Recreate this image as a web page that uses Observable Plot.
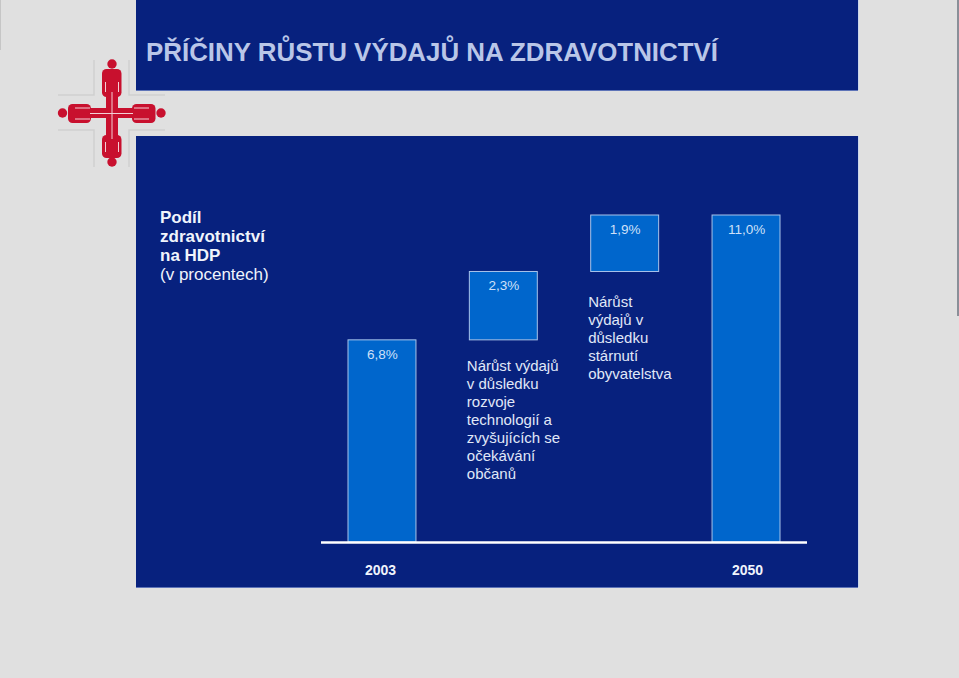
<!DOCTYPE html>
<html lang="cs">
<head>
<meta charset="utf-8">
<script src="https://cdn.jsdelivr.net/npm/d3@7"></script>
<script src="https://cdn.jsdelivr.net/npm/@observablehq/plot@0.6"></script>
<style>
html,body{margin:0;padding:0;width:959px;height:678px;overflow:hidden;background:#e0e0e0;font-family:"Liberation Sans",Arial,sans-serif}
#stage{position:relative;width:959px;height:678px}
.panel{position:absolute;left:136px;width:722px;background:#07217e;box-shadow:1px 0 0 #c9d6ea,0 1px 0 #5e74b8}
h1{position:absolute;left:146px;top:37px;margin:0;font-size:25.9px;line-height:30px;font-weight:bold;color:#b9c6e8;white-space:nowrap}
#head{position:absolute;left:160px;top:208px;font-size:17px;line-height:19px;color:#f0f4fc}
#head b{display:block}
#logo{position:absolute;left:0;top:0}
#plot{position:absolute;left:0;top:0}
#plot svg{background:transparent;display:block}
.edge{position:absolute;left:957px;top:0;width:2px;height:316px;background:#8a8f98}
.edgeL{position:absolute;left:0;top:0;width:1px;height:50px;background:#c6c6c6}
</style>
</head>
<body>
<div id="stage">
  <div class="panel" style="top:0;height:90px"></div>
  <div class="panel" style="top:136px;height:451px"></div>
  <div class="edge"></div>
  <div class="edgeL"></div>
  <svg id="logo" width="200" height="180">
    <g stroke="#cfcfcf" stroke-width="1.5" fill="none">
      <path d="M58 95H94V60M129 60V95H165M58 130H94V167M129 167V130H165"/>
    </g>
    <g fill="#c8102e">
      <circle cx="112" cy="64" r="4.7"/><circle cx="112" cy="162" r="4.7"/>
      <circle cx="62.500" cy="113" r="4.700"/><circle cx="161" cy="113" r="4.700"/>
      <rect x="102" y="69" width="19.500" height="28" rx="4.500"/>
      <rect x="102" y="135" width="19.500" height="23" rx="4.500"/>
      <rect x="68" y="104" width="23" height="19" rx="4.500"/>
      <rect x="132" y="104" width="23.500" height="19" rx="4.500"/>
      <rect x="106" y="90" width="12" height="50"/>
      <rect x="88" y="108" width="48" height="10"/>
    </g>
    <g stroke="#f3cfd5" stroke-width="1" fill="none">
      <path d="M112 92V139M90 113.500H133M105.500 82V92M118.500 82V92M105.500 142V152M118.500 142V152M75 108H90M75 119H90M134 108H149M134 119H149"/>
    </g>
  </svg>
  <h1>PŘÍČINY RŮSTU VÝDAJŮ NA ZDRAVOTNICTVÍ</h1>
  <div id="head"><b>Podíl<br>zdravotnictví<br>na HDP</b>(v procentech)</div>
  <div id="plot"></div>
</div>
<script>
const categories = ["2003", "Technologie", "Stárnutí", "2050"];
const bases = [0, 6.8, 9.1, 0];
const values = [6.8, 2.3, 1.9, 11.0];
const valueLabels = ["6,8%", "2,3%", "1,9%", "11,0%"];
const noteTechnology = "Nárůst výdajů\nv důsledku\nrozvoje\ntechnologií a\nzvyšujících se\nočekávání\nobčanů";
const noteAgeing = "Nárůst\nvýdajů v\ndůsledku\nstárnutí\nobyvatelstva";

const rows = categories.map((c, i) => ({
  category: c, base: bases[i], top: bases[i] + values[i], label: valueLabels[i]
}));

const axisStyle = {tickSize: 0, tickPadding: 23, label: null, fontSize: 14, fontWeight: "bold", fill: "#f0f4fc"};

const chart = Plot.plot({
  width: 959,
  height: 678,
  marginLeft: 321,
  marginRight: 152,
  marginTop: 215,
  marginBottom: 136,
  style: {background: "transparent", fontFamily: "'Liberation Sans', Arial, sans-serif"},
  x: {type: "band", domain: categories, range: [348, 780], paddingInner: 0.44, paddingOuter: 0, round: false, label: null},
  y: {domain: [0, 11], label: null, axis: null},
  marks: [
    Plot.barY(rows, {x: "category", y1: "base", y2: "top", fill: "#0066cc", stroke: "#a9c4ea", strokeWidth: 1}),
    Plot.ruleY([0], {stroke: "#ffffff", strokeWidth: 2.5}),
    Plot.text(rows, {x: "category", y: "top", text: "label", dy: 14, fontSize: 13.5, fill: "#cfe0f8"}),
    Plot.text([noteTechnology], {x: () => categories[1], y: () => bases[1], text: d => d, textAnchor: "start", lineAnchor: "top", dx: -37, dy: 18, lineHeight: 1.2, fontSize: 15, fill: "#e0e8f8"}),
    Plot.text([noteAgeing], {x: () => categories[2], y: () => bases[2], text: d => d, textAnchor: "start", lineAnchor: "top", dx: -37, dy: 22, lineHeight: 1.2, fontSize: 15, fill: "#e0e8f8"}),
    Plot.axisX({ticks: ["2003"], dx: -2, ...axisStyle}),
    Plot.axisX({ticks: ["2050"], dx: 1, ...axisStyle})
  ]
});
document.getElementById("plot").appendChild(chart);
</script>
</body>
</html>
